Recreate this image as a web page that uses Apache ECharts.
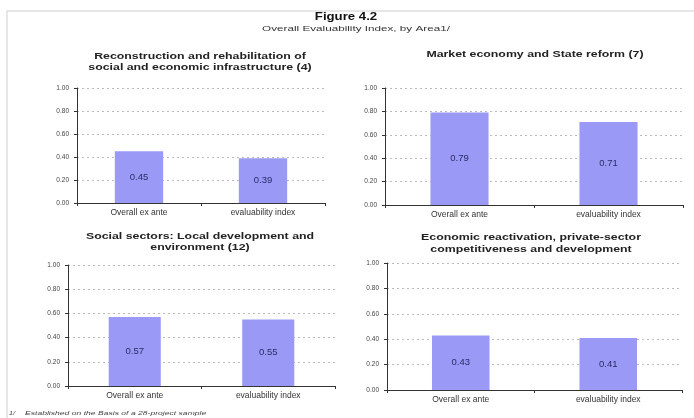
<!DOCTYPE html>
<html><head><meta charset="utf-8">
<script src="https://cdn.jsdelivr.net/npm/echarts@6/dist/echarts.min.js"></script>
<style>html,body{margin:0;padding:0;background:#fff}#c{width:694px;height:418px}</style>
</head><body><div id="c"></div>
<script>
var categories = ['Overall ex ante', 'evaluability index'];
var panelTitles = [
  ['Reconstruction and rehabilitation of', 'social and economic infrastructure (4)'],
  ['Market economy and State reform (7)'],
  ['Social sectors: Local development and', 'environment (12)'],
  ['Economic reactivation, private-sector', 'competitiveness and development']
];
var values1 = [0.45, 0.39];
var values2 = [0.79, 0.71];
var values3 = [0.57, 0.55];
var values4 = [0.43, 0.41];
var allValues = [values1, values2, values3, values4];
var mainTitle = 'Figure 4.2';
var subTitle = 'Overall Evaluability Index, by Area1/';
var footnoteMark = '1/';
var footnote = 'Established on the Basis of a 28-project sample';

var grids = [
  {left: 77, top: 88, width: 248, height: 115},
  {left: 385, top: 88, width: 298, height: 117},
  {left: 68, top: 265, width: 267, height: 121},
  {left: 387, top: 263, width: 295, height: 127}
];
var titlePos = [
  {x: 200, y: [57, 68]}, {x: 535, y: [55]}, {x: 200, y: [237, 248]}, {x: 531, y: [238, 250]}
];
var F = 'Liberation Sans, Arial, sans-serif';

function txt(str, x, y, size, weight, scaleX, color, align, italic) {
  return {type: 'text', x: x, y: y, scaleX: scaleX, silent: true,
    style: {text: str, x: 0, y: 0, textAlign: align || 'center', textVerticalAlign: 'middle',
      font: (italic ? 'italic ' : '') + weight + ' ' + size + 'px ' + F, fill: color}};
}
var graphics = [
  {type: 'line', shape: {x1: 7, y1: 11, x2: 694, y2: 11}, style: {stroke: '#cfcfcf', lineWidth: 1}},
  {type: 'line', shape: {x1: 7, y1: 11, x2: 7, y2: 418}, style: {stroke: '#cfcfcf', lineWidth: 1}},
  txt(mainTitle, 346, 17.5, 10, 'bold', 1.32, '#111'),
  txt(subTitle, 356, 29.5, 7, 'normal', 1.67, '#333'),
  txt(footnoteMark, 9, 413, 6, 'normal', 1.2, '#444', 'left', true),
  txt(footnote, 25, 413, 6, 'normal', 1.43, '#444', 'left', true)
];
var xAxes = [], yAxes = [], series = [];
for (var i = 0; i < 4; i++) {
  for (var k = 0; k < panelTitles[i].length; k++) {
    graphics.push(txt(panelTitles[i][k], titlePos[i].x, titlePos[i].y[k], 8.5, 'bold', 1.45, '#222'));
  }
  xAxes.push({type: 'category', gridIndex: i, data: categories,
    axisLine: {lineStyle: {color: '#333', width: 1}},
    axisTick: {show: true, alignWithLabel: false, length: 3, lineStyle: {color: '#333'}},
    axisLabel: {fontFamily: F, fontSize: 8.5, color: '#333', margin: 5},
    splitLine: {show: false}});
  yAxes.push({type: 'value', gridIndex: i, min: 0, max: 1, interval: 0.2,
    axisLine: {show: true, lineStyle: {color: '#333', width: 1}},
    axisTick: {show: true, length: 3, lineStyle: {color: '#333'}},
    axisLabel: {fontFamily: F, fontSize: 6.5, color: '#444', margin: 8,
      formatter: function (v) { return v.toFixed(2); }},
    splitLine: {show: true, lineStyle: {color: '#bbb', type: [2, 3], width: 1}}});
  series.push({type: 'bar', xAxisIndex: i, yAxisIndex: i, data: allValues[i],
    barWidth: '39%',
    itemStyle: {color: '#9a9af6'},
    label: {show: true, position: 'inside', fontFamily: F, fontSize: 9.5,
      color: '#2b2b66', formatter: function (p) { return p.value.toFixed(2); }}});
}

var chart = echarts.init(document.getElementById('c'), null, {renderer: 'canvas'});
chart.setOption({
  animation: false,
  backgroundColor: '#fff',
  grid: grids,
  xAxis: xAxes,
  yAxis: yAxes,
  series: series,
  graphic: graphics
});
</script></body></html>
